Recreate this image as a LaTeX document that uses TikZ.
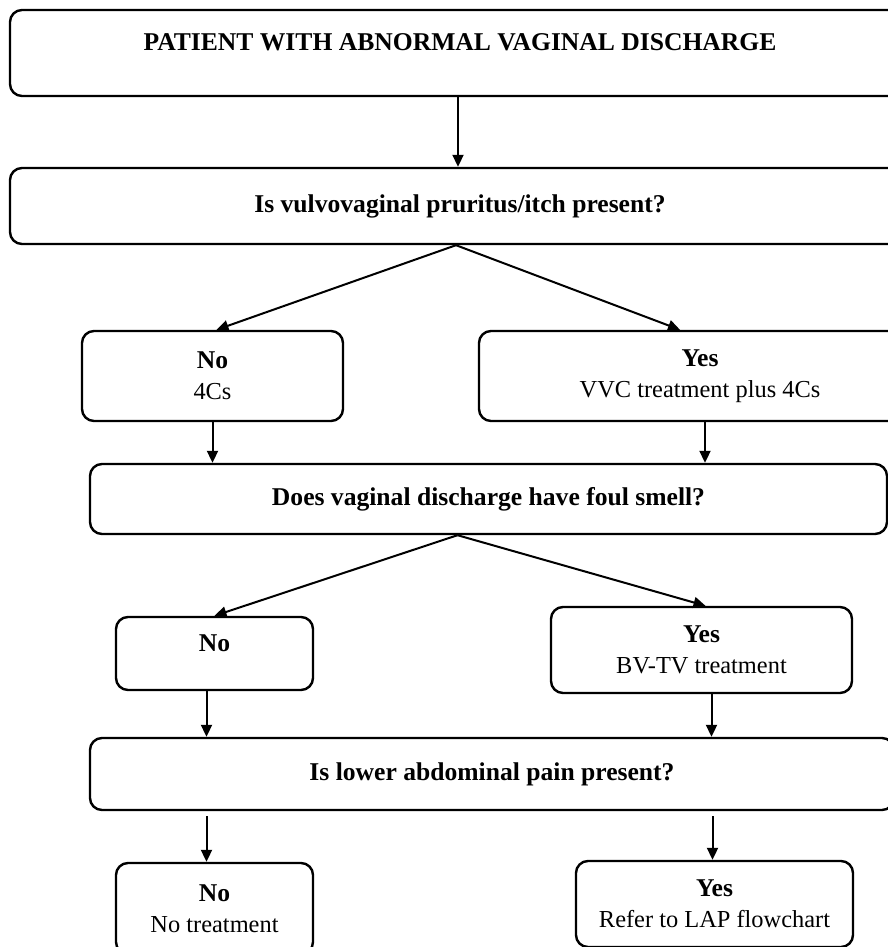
\documentclass[tikz,border=0pt]{standalone}
\usepackage{fontspec}
\setmainfont{Liberation Serif}
\usetikzlibrary{arrows.meta}
\newcommand{\hd}[1]{{\fontsize{12.8}{15.5}\selectfont\bfseries #1}}
\begin{document}
\begin{tikzpicture}[x=0.5pt,y=-0.5pt,
  box/.style={draw,line width=1.2pt,rounded corners=6pt,align=center,inner sep=0pt,
    font=\fontsize{12.2}{15.5}\selectfont},
  arr/.style={line width=1pt,-{Triangle[length=6pt,width=5.5pt]}}]
\useasboundingbox (0,0) rectangle (888,947);
\clip (0,0) rectangle (888,947);
\node[box,minimum width=450pt,minimum height=43pt,text depth=11pt] (start) at (460,53) {\hd{PATIENT WITH ABNORMAL VAGINAL DISCHARGE}};
\node[box,minimum width=450pt,minimum height=38pt] (itch) at (460,206) {\hd{Is vulvovaginal pruritus/itch present?}};
\node[box,minimum width=130.5pt,minimum height=45pt] (no1) at (212.5,376) {\hd{No}\\4Cs};
\node[box,minimum width=221pt,minimum height=45pt] (yes1) at (700,376) {\hd{Yes}\\VVC treatment plus 4Cs};
\node[box,minimum width=398.5pt,minimum height=35pt] (smell) at (488.5,499) {\hd{Does vaginal discharge have foul smell?}};
\node[box,minimum width=98.5pt,minimum height=36.5pt,text depth=10.5pt] (no2) at (214.5,653.5) {\hd{No}};
\node[box,minimum width=150.5pt,minimum height=43pt] (yes2) at (701.5,650) {\hd{Yes}\\BV-TV treatment};
\node[box,minimum width=402pt,minimum height=36pt] (pain) at (492,774) {\hd{Is lower abdominal pain present?}};
\node[box,minimum width=98.5pt,minimum height=45.5pt] (no3) at (214.5,908.5) {\hd{No}\\No treatment};
\node[box,minimum width=138.5pt,minimum height=43pt] (yes3) at (714.5,904) {\hd{Yes}\\Refer to LAP flowchart};

\draw[arr] ([xshift=-1pt]start.south) -- ([xshift=-1pt]itch.north);
\draw[arr] ([xshift=-2pt]itch.south) -- ([xshift=2pt]no1.north);
\draw[arr] ([xshift=-2pt]itch.south) -- ([xshift=-10pt]yes1.north);
\draw[arr] (no1.south) -- (no1.south |- smell.north);
\draw[arr] ([xshift=2.5pt]yes1.south) -- ([xshift=2.5pt]yes1.south |- smell.north);
\draw[arr] ([xshift=-15.5pt]smell.south) -- (no2.north);
\draw[arr] ([xshift=-15.5pt]smell.south) -- ([xshift=2pt]yes2.north);
\draw[arr] ([xshift=-4pt]no2.south) -- ([xshift=-4pt]no2.south |- pain.north);
\draw[arr] ([xshift=5pt]yes2.south) -- ([xshift=5pt]yes2.south |- pain.north);
\draw[arr,shorten <=2.5pt] ([xshift=-4pt]no3.north |- pain.south) -- ([xshift=-4pt]no3.north);
\draw[arr,shorten <=2.5pt] ([xshift=-1pt]yes3.north |- pain.south) -- ([xshift=-1pt]yes3.north);
\end{tikzpicture}
\end{document}
